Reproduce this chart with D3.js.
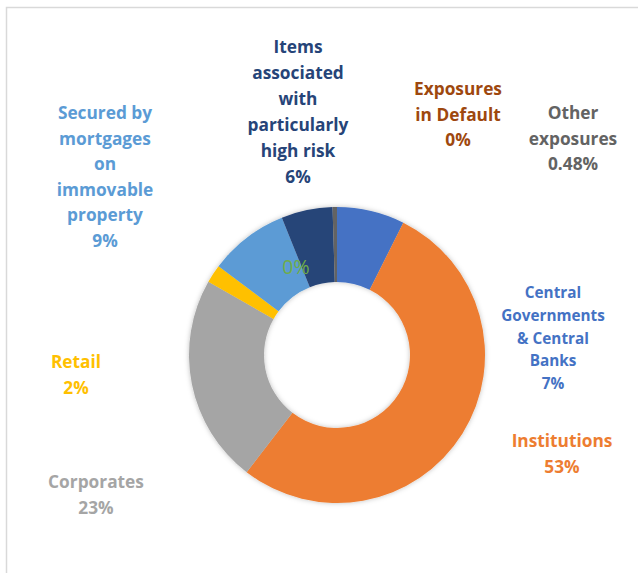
<!DOCTYPE html>
<html>
<head>
<meta charset="utf-8">
<script src="https://cdn.jsdelivr.net/npm/d3@7"></script>
<style>
  html, body { margin: 0; padding: 0; background: #fff; }
  svg { display: block; font-family: "Open Sans", Lato, sans-serif; }
</style>
</head>
<body>
<svg id="chart"></svg>
<script>
// Exposure classes, clockwise from 12 o'clock
const categories = [
  "Central Governments & Central Banks",
  "Institutions",
  "Corporates",
  "Retail",
  "Secured by mortgages on immovable property",
  "Other items",
  "Items associated with particularly high risk",
  "Exposures in Default",
  "Other exposures"
];
const shares = [7.4, 53.1, 22.8, 2.0, 8.7, 0, 5.6, 0, 0.48];

// how each label is broken over lines (empty = value only)
const labelLines = [
  ["Central", "Governments", "& Central", "Banks"],
  ["Institutions"],
  ["Corporates"],
  ["Retail"],
  ["Secured by", "mortgages", "on", "immovable", "property"],
  [],
  ["Items", "associated", "with", "particularly", "high risk"],
  ["Exposures", "in Default"],
  ["Other", "exposures"]
];

const colors = ["#4472C4", "#ED7D31", "#A5A5A5", "#FFC000", "#5B9BD5",
                "#70AD47", "#264478", "#9E480E", "#636363"];

// label anchor (centre of first line) relative to donut centre, plus style
const labelLayout = [
  { dx: 216, dy: -62, size: 15.3, lh: 22.6, weight: 700 },
  { dx: 225, dy: 86, size: 17.3, lh: 26, weight: 700 },
  { dx: -241, dy: 127, size: 17.3, lh: 26, weight: 700 },
  { dx: -261, dy: 7, size: 17.3, lh: 26, weight: 700 },
  { dx: -232, dy: -242, size: 17.3, lh: 25.6, weight: 700 },
  { dx: -41, dy: -88, size: 19.5, lh: 26, weight: 500 },
  { dx: -39, dy: -308, size: 17.3, lh: 26, weight: 700 },
  { dx: 121, dy: -266, size: 17.3, lh: 25.5, weight: 700 },
  { dx: 236, dy: -242, size: 17.3, lh: 25.5, weight: 700 }
];

const W = 638, H = 573;
const cx = 337, cy = 355;
const outerR = 148, innerR = 73;

const svg = d3.select("#chart").attr("width", W).attr("height", H);

// chart area frame (only top/left edges visible in the window)
svg.append("path")
  .attr("d", `M6.5,${H} V7.5 H${W}`)
  .attr("fill", "none")
  .attr("stroke", "#d9d9d9")
  .attr("stroke-width", 1.5);

const defs = svg.append("defs");
const shadow = defs.append("filter").attr("id", "soft")
  .attr("x", "-10%").attr("y", "-10%").attr("width", "120%").attr("height", "120%");
shadow.append("feDropShadow")
  .attr("dx", 0).attr("dy", 0).attr("stdDeviation", 2.5)
  .attr("flood-color", "#000").attr("flood-opacity", 0.25);

const data = shares.map((v, i) => ({
  name: categories[i], value: v, lines: labelLines[i],
  color: colors[i], layout: labelLayout[i]
}));

const pie = d3.pie().sort(null).value(d => d.value);
const arc = d3.arc().innerRadius(innerR).outerRadius(outerR);

const g = svg.append("g").attr("transform", `translate(${cx},${cy})`);

g.append("g")
  .attr("filter", "url(#soft)")
  .selectAll("path")
  .data(pie(data))
  .join("path")
  .attr("d", arc)
  .attr("fill", d => d.data.color);

function pct(v) {
  return (v > 0 && v < 1) ? v.toFixed(2) + "%" : Math.round(v) + "%";
}

const labels = g.append("g").selectAll("text")
  .data(data)
  .join("text")
  .attr("text-anchor", "middle")
  .attr("fill", d => d.color)
  .attr("font-size", d => d.layout.size)
  .attr("font-weight", d => d.layout.weight)
  .attr("transform", d => `translate(${d.layout.dx},${d.layout.dy})`);

labels.each(function (d) {
  const rows = d.lines.concat([pct(d.value)]);
  d3.select(this).selectAll("tspan")
    .data(rows)
    .join("tspan")
    .attr("x", 0)
    .attr("y", (r, i) => i * d.layout.lh)
    .attr("dy", "0.35em")
    .text(r => r);
});
</script>
</body>
</html>
